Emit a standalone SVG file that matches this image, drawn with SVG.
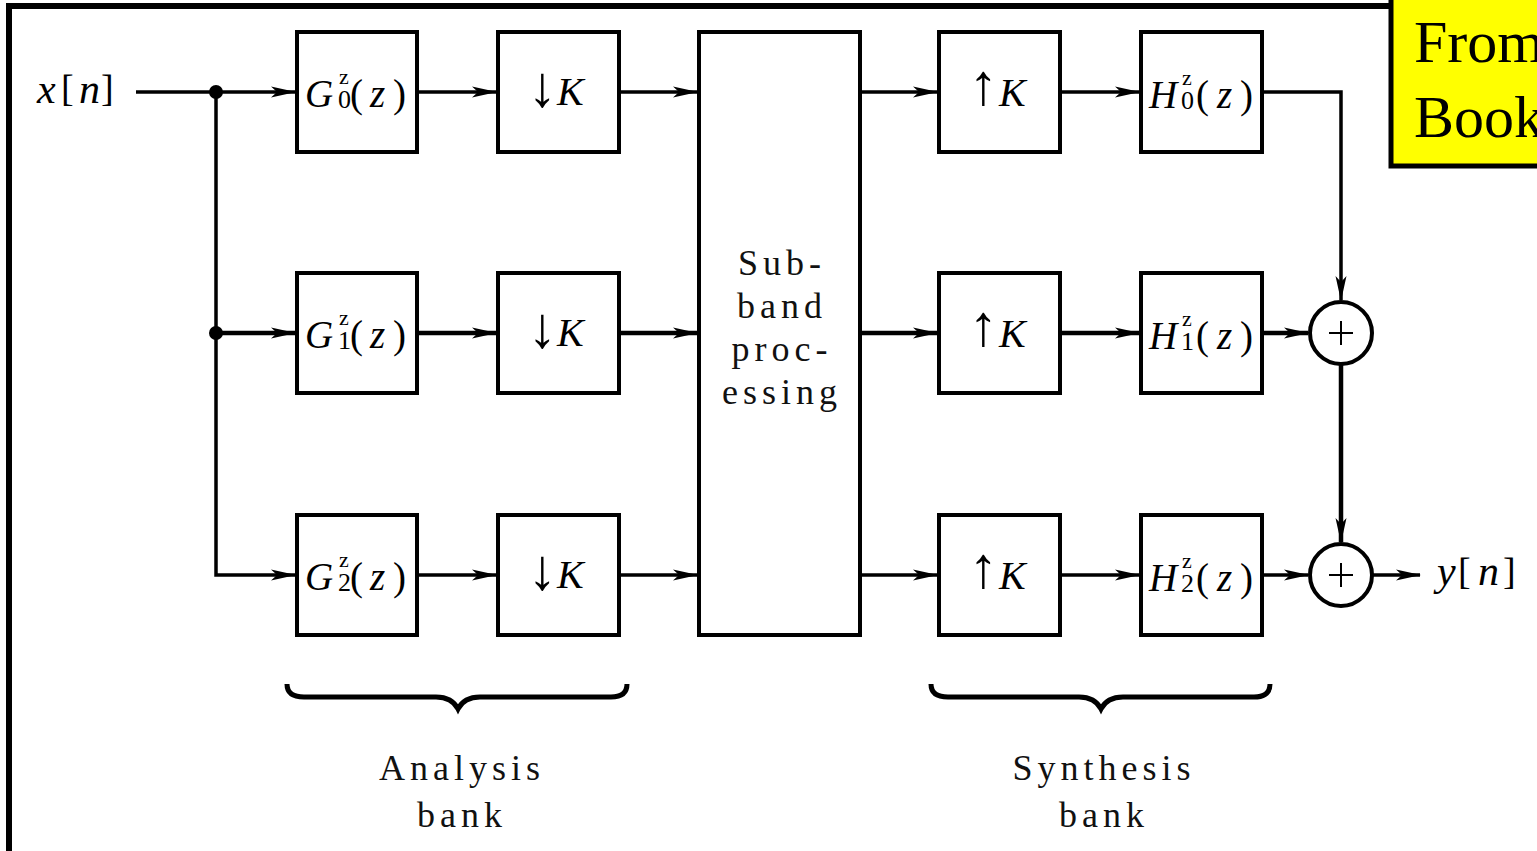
<svg xmlns="http://www.w3.org/2000/svg" width="1537" height="851" viewBox="0 0 1537 851">
<style>
.box{fill:#fff;stroke:#000;stroke-width:4}
.ln{fill:none;stroke:#000;stroke-width:3.5}
.lnm{fill:none;stroke:#000;stroke-width:4.5}
.t{font-family:"Liberation Serif","DejaVu Serif",serif;fill:#000}
.i{font-style:italic}
.m{font-size:39px}
.sp{font-size:22px}
.sb{font-size:26px}
.ar{font-size:58px}
.k{font-size:40px;font-style:italic}
.lab{font-family:"Liberation Serif","DejaVu Serif",serif;font-size:36px;letter-spacing:5px;text-anchor:middle;fill:#111}
</style>
<defs>
<marker id="ah" viewBox="-25 -6 26 12" refX="0" refY="0" markerWidth="26" markerHeight="12" markerUnits="userSpaceOnUse" orient="auto">
<path d="M1,0 L-24,-5.5 L-18,0 L-24,5.5 Z" fill="#000"/>
</marker>
</defs>
<rect x="0" y="0" width="1537" height="851" fill="#fff"/>
<rect id="frame" x="9" y="6" width="1700" height="1000" fill="none" stroke="#000" stroke-width="6"/>

<g id="connectors">
<path class="ln" d="M136,92 H295" marker-end="url(#ah)"/>
<path class="ln" d="M216,92 V575 H295" marker-end="url(#ah)"/>
<path class="lnm" d="M216,333 H295" marker-end="url(#ah)"/>
<path class="ln" d="M417,92 H496" marker-end="url(#ah)"/>
<path class="lnm" d="M417,333 H496" marker-end="url(#ah)"/>
<path class="ln" d="M417,575 H496" marker-end="url(#ah)"/>
<path class="ln" d="M619,92 H697" marker-end="url(#ah)"/>
<path class="lnm" d="M619,333 H697" marker-end="url(#ah)"/>
<path class="ln" d="M619,575 H697" marker-end="url(#ah)"/>
<path class="ln" d="M860,92 H937" marker-end="url(#ah)"/>
<path class="lnm" d="M860,333 H937" marker-end="url(#ah)"/>
<path class="ln" d="M860,575 H937" marker-end="url(#ah)"/>
<path class="ln" d="M1060,92 H1139" marker-end="url(#ah)"/>
<path class="lnm" d="M1060,333 H1139" marker-end="url(#ah)"/>
<path class="ln" d="M1060,575 H1139" marker-end="url(#ah)"/>
<path class="ln" d="M1262,92 H1341 V300" marker-end="url(#ah)"/>
<path class="lnm" d="M1262,333 H1308" marker-end="url(#ah)"/>
<path class="lnm" d="M1341,364 V542" marker-end="url(#ah)"/>
<path class="ln" d="M1262,575 H1308" marker-end="url(#ah)"/>
<path class="ln" d="M1372,575 H1420" marker-end="url(#ah)"/>
<circle cx="216" cy="92" r="7" fill="#000"/>
<circle cx="216" cy="333" r="7" fill="#000"/>
</g>

<g id="input">
<text class="t i" x="37" y="103" font-size="42">x</text>
<text class="t" x="61" y="101" font-size="38">[</text>
<text class="t i" x="79" y="103" font-size="42">n</text>
<text class="t" x="101" y="101" font-size="38">]</text>
</g>

<g id="G0">
<rect class="box" x="297" y="32" width="120" height="120"/>
<text class="t i m" x="305" y="107">G</text>
<text class="t sp" x="339" y="84">z</text>
<text class="t sb" x="338" y="108">0</text>
<text class="t m" x="350" y="107">(</text>
<text class="t i m" x="370" y="107">z</text>
<text class="t m" x="393" y="107">)</text>
</g>
<g id="G1">
<rect class="box" x="297" y="273" width="120" height="120"/>
<text class="t i m" x="305" y="348">G</text>
<text class="t sp" x="339" y="325">z</text>
<text class="t sb" x="338" y="349">1</text>
<text class="t m" x="350" y="348">(</text>
<text class="t i m" x="370" y="348">z</text>
<text class="t m" x="393" y="348">)</text>
</g>
<g id="G2">
<rect class="box" x="297" y="515" width="120" height="120"/>
<text class="t i m" x="305" y="590">G</text>
<text class="t sp" x="339" y="567">z</text>
<text class="t sb" x="338" y="591">2</text>
<text class="t m" x="350" y="590">(</text>
<text class="t i m" x="370" y="590">z</text>
<text class="t m" x="393" y="590">)</text>
</g>

<g id="D0">
<rect class="box" x="498" y="32" width="121" height="120"/>
<text class="t ar" x="528" y="106">↓</text>
<text class="t k" x="557" y="105">K</text>
</g>
<g id="D1">
<rect class="box" x="498" y="273" width="121" height="120"/>
<text class="t ar" x="528" y="347">↓</text>
<text class="t k" x="557" y="346">K</text>
</g>
<g id="D2">
<rect class="box" x="498" y="515" width="121" height="120"/>
<text class="t ar" x="528" y="589">↓</text>
<text class="t k" x="557" y="588">K</text>
</g>

<g id="subband">
<rect class="box" x="699" y="32" width="161" height="603"/>
<text class="lab" x="782" y="275">Sub-</text>
<text class="lab" x="782" y="318">band</text>
<text class="lab" x="782" y="361">proc-</text>
<text class="lab" x="782" y="404">essing</text>
</g>

<g id="U0">
<rect class="box" x="939" y="32" width="121" height="120"/>
<text class="t ar" x="969" y="104">↑</text>
<text class="t k" x="999" y="106">K</text>
</g>
<g id="U1">
<rect class="box" x="939" y="273" width="121" height="120"/>
<text class="t ar" x="969" y="345">↑</text>
<text class="t k" x="999" y="347">K</text>
</g>
<g id="U2">
<rect class="box" x="939" y="515" width="121" height="120"/>
<text class="t ar" x="969" y="587">↑</text>
<text class="t k" x="999" y="589">K</text>
</g>

<g id="H0">
<rect class="box" x="1141" y="32" width="121" height="120"/>
<text class="t i m" x="1149" y="108">H</text>
<text class="t sp" x="1182" y="85">z</text>
<text class="t sb" x="1181" y="109">0</text>
<text class="t m" x="1196" y="108">(</text>
<text class="t i m" x="1217" y="108">z</text>
<text class="t m" x="1240" y="108">)</text>
</g>
<g id="H1">
<rect class="box" x="1141" y="273" width="121" height="120"/>
<text class="t i m" x="1149" y="349">H</text>
<text class="t sp" x="1182" y="326">z</text>
<text class="t sb" x="1181" y="350">1</text>
<text class="t m" x="1196" y="349">(</text>
<text class="t i m" x="1217" y="349">z</text>
<text class="t m" x="1240" y="349">)</text>
</g>
<g id="H2">
<rect class="box" x="1141" y="515" width="121" height="120"/>
<text class="t i m" x="1149" y="591">H</text>
<text class="t sp" x="1182" y="568">z</text>
<text class="t sb" x="1181" y="592">2</text>
<text class="t m" x="1196" y="591">(</text>
<text class="t i m" x="1217" y="591">z</text>
<text class="t m" x="1240" y="591">)</text>
</g>

<g id="sum1">
<circle cx="1341" cy="333" r="31" fill="#fff" stroke="#000" stroke-width="4"/>
<path d="M1329,333 H1353 M1341,321 V345" stroke="#000" stroke-width="2"/>
</g>
<g id="sum2">
<circle cx="1341" cy="575" r="31" fill="#fff" stroke="#000" stroke-width="4"/>
<path d="M1329,575 H1353 M1341,563 V587" stroke="#000" stroke-width="2"/>
</g>

<g id="output">
<text class="t i" x="1437" y="585" font-size="42">y</text>
<text class="t" x="1458" y="584" font-size="38">[</text>
<text class="t i" x="1478" y="585" font-size="42">n</text>
<text class="t" x="1503" y="584" font-size="38">]</text>
</g>

<g id="analysis">
<path d="M287,684 Q287,697 304,697 H436 Q452,697 458,709 Q464,697 480,697 H611 Q627,697 627,684" fill="none" stroke="#000" stroke-width="5"/>
<text class="lab" x="462" y="780">Analysis</text>
<text class="lab" x="462" y="827">bank</text>
</g>
<g id="synthesis">
<path d="M931,684 Q931,697 948,697 H1079 Q1095,697 1101,709 Q1107,697 1123,697 H1254 Q1270,697 1270,684" fill="none" stroke="#000" stroke-width="5"/>
<text class="lab" x="1104" y="780">Synthesis</text>
<text class="lab" x="1104" y="827">bank</text>
</g>

<g id="note">
<rect x="1391" y="-4" width="160" height="170" fill="#ffff00" stroke="#000" stroke-width="5"/>
<text class="t" x="1414" y="62" font-size="60">From</text>
<text class="t" x="1414" y="137" font-size="60">Book</text>
</g>
</svg>
